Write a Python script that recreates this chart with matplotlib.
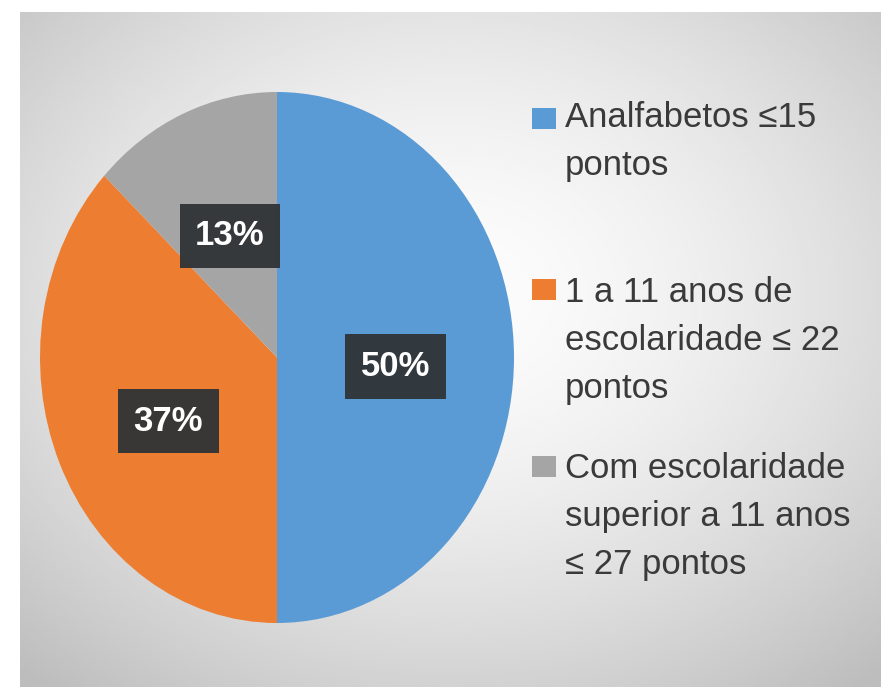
import numpy as np
import matplotlib
matplotlib.use("Agg")
import matplotlib.pyplot as plt
from matplotlib.patches import Rectangle
from matplotlib.transforms import offset_copy

# data
categories = [
    "Analfabetos ≤15\npontos",
    "1 a 11 anos de\nescolaridade ≤ 22\npontos",
    "Com escolaridade\nsuperior a 11 anos\n≤ 27 pontos",
]
values = [50, 37, 13]
colors = ["#5b9bd5", "#ed7d31", "#a5a5a5"]

W, H = 881, 691
fonts = ["Liberation Sans Narrow", "Liberation Sans", "DejaVu Sans"]

fig = plt.figure(figsize=(W / 100, H / 100), dpi=100)
fig.patch.set_facecolor("white")

# radial grey background
bg = fig.add_axes([20 / W, 4 / H, 1 - 20 / W, (H - 16) / H])
yy, xx = np.mgrid[0:1:300j, 0:1:300j]
d = np.sqrt(((xx - 0.5) / 0.75) ** 2 + ((yy - 0.42) / 0.75) ** 2)
shade = 0.99 - 0.25 * np.clip(d, 0, 1) ** 1.6
bg.imshow(shade, cmap="gray", vmin=0, vmax=1, aspect="auto",
          extent=[0, 1, 1, 0], interpolation="bilinear")
bg.axis("off")

# pie (image is stretched vertically, so aspect is free)
ax = fig.add_axes([40 / W, (H - 623) / H, 474 / W, 531 / H])
wedges, texts, autotexts = ax.pie(
    values, colors=colors, startangle=90, counterclock=False,
    autopct="%d%%", pctdistance=0.5,
    wedgeprops=dict(linewidth=0),
    textprops=dict(color="white", fontsize=25, fontweight="bold", family=fonts),
)
# labels in the reference sit a little lower for the two big slices
shifts = [-9, -11, 0]
for t, s in zip(autotexts, shifts):
    t.set_transform(offset_copy(t.get_transform(), fig=fig, y=s, units="dots"))
    t.set_bbox(dict(boxstyle="square,pad=0.45", facecolor="#2f3336",
                    edgecolor="none", alpha=0.95))
ax.set_aspect("auto")
ax.set_xlim(-1, 1)
ax.set_ylim(-1, 1)
ax.axis("off")

# legend drawn by hand: swatch next to first line of each label
swatch_tops = [108, 279, 456]
first_baselines = [127, 302, 478]
pitch = 48
for lab, col, top, base in zip(categories, colors, swatch_tops, first_baselines):
    fig.patches.append(Rectangle((532 / W, 1 - (top + 21) / H), 24 / W, 21 / H,
                                 transform=fig.transFigure, facecolor=col,
                                 edgecolor="none"))
    for i, line in enumerate(lab.split("\n")):
        fig.text(565 / W, 1 - (base + i * pitch) / H, line, va="baseline",
                 ha="left", fontsize=25, color="#3a3a3a", family=fonts)

fig.savefig("out.png", dpi=100, facecolor=fig.get_facecolor())
